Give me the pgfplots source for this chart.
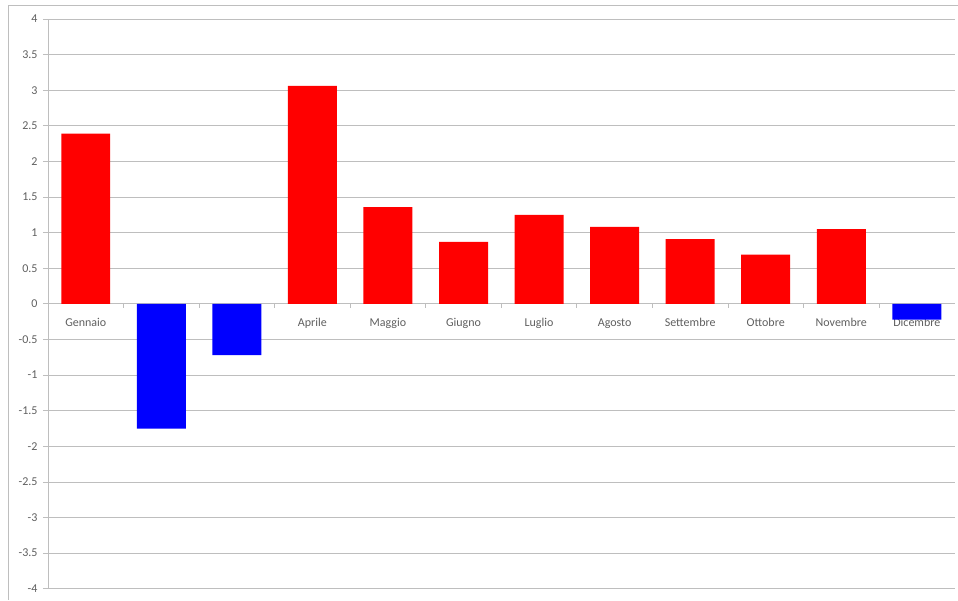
\documentclass[border=0pt]{standalone}
\usepackage{pgfplots}
\pgfplotsset{compat=1.18}
\usepackage{fontspec}
\setmainfont{Carlito}
\definecolor{gridgray}{RGB}{190,190,190}
\definecolor{labgray}{RGB}{95,95,95}
\definecolor{barred}{RGB}{255,0,0}
\definecolor{barblue}{RGB}{0,0,255}
\begin{document}
\begin{tikzpicture}
\begin{axis}[
  scale only axis,
  width=907pt, height=570pt,
  xmin=-0.5, xmax=11.5,
  ymin=-4, ymax=4,
  axis x line=middle,
  axis y line=left,
  axis line style={draw=gridgray, line width=0.8pt, -},
  ytick={-4,-3.5,...,4},
  ymajorgrids,
  grid style={draw=gridgray, line width=0.8pt},
  xtick={0,...,11},
  xticklabels={Gennaio,Febbraio,Marzo,Aprile,Maggio,Giugno,Luglio,Agosto,Settembre,Ottobre,Novembre,Dicembre},
  minor xtick={0.5,1.5,...,10.5},
  major x tick style={draw=none},
  minor x tick style={draw=gridgray, line width=0.8pt},
  major y tick style={draw=gridgray, line width=0.8pt},
  tick align=outside,
  major tick length=5pt,
  minor tick length=4pt,
  xticklabel style={font=\fontsize{12}{14}\selectfont, text=labgray, yshift=-6pt},
  yticklabel style={font=\fontsize{12}{14}\selectfont, text=labgray, xshift=-2pt},
  /pgf/number format/assume math mode=true,
  /pgf/number format/fixed,
  ybar, bar width=49pt, bar shift=0pt,
  clip=false,
]
% months above the average
\addplot[fill=barred, draw=none] coordinates {
  (0,2.39) (3,3.06) (4,1.36) (5,0.87) (6,1.25) (7,1.08) (8,0.91) (9,0.69) (10,1.05)
};
% months below the average
\addplot[fill=barblue, draw=none] coordinates {
  (1,-1.75) (2,-0.72) (11,-0.22)
};
\end{axis}
% outer frame of the chart area
\draw[gridgray, line width=0.8pt] ([xshift=-40pt,yshift=-11pt]current axis.south west) -- ([xshift=-40pt,yshift=14pt]current axis.north west) -- ([xshift=3pt,yshift=14pt]current axis.north east);
\path ([xshift=-48pt,yshift=-11pt]current axis.south west) rectangle ([xshift=3pt,yshift=19pt]current axis.north east);
\end{tikzpicture}
\end{document}
